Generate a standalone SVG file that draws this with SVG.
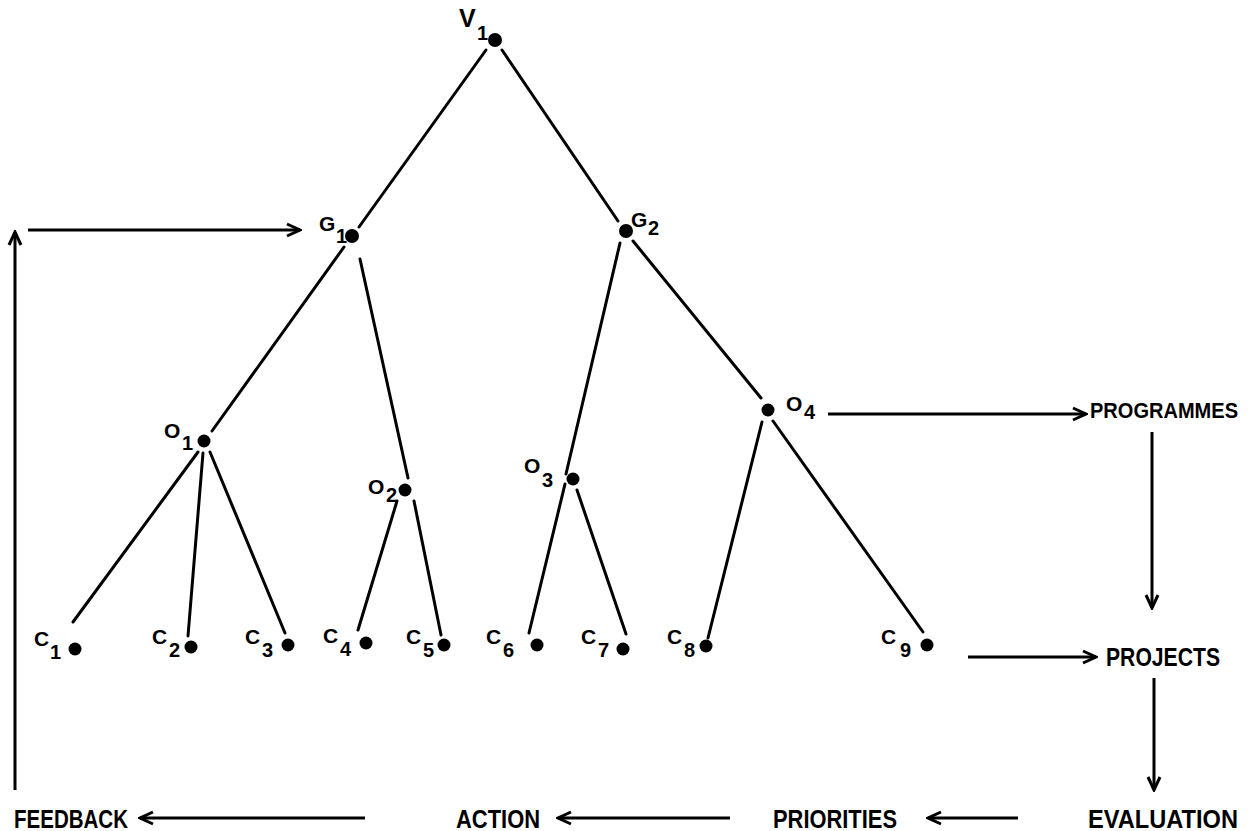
<svg xmlns="http://www.w3.org/2000/svg" width="1254" height="831" viewBox="0 0 1254 831">
<style>
.e{stroke:#000;stroke-width:3;fill:none;stroke-linecap:round}
.a{stroke:#000;stroke-width:3;fill:none;marker-end:url(#ah)}
.d{fill:#000}
.l{font-family:"Liberation Sans",Arial,sans-serif;font-weight:bold;font-size:21px;fill:#000}
.s{font-family:"Liberation Sans",Arial,sans-serif;font-weight:bold;font-size:20px;fill:#000}
.t{font-family:"Liberation Sans",Arial,sans-serif;font-weight:bold;font-size:25px;fill:#000}
</style>
<defs>
<marker id="ah" viewBox="0 0 16 16" refX="14" refY="8" markerWidth="16" markerHeight="16" markerUnits="userSpaceOnUse" orient="auto">
<path d="M1,2 L14,8 L1,14" fill="none" stroke="#000" stroke-width="3"/>
</marker>
</defs>
<rect width="1254" height="831" fill="#fff"/>
<g id="connectors">
<line class="e" x1="486" y1="50" x2="359" y2="227"/>
<line class="e" x1="502" y1="50" x2="618" y2="221"/>
<line class="e" x1="344" y1="247" x2="212" y2="431"/>
<line class="e" x1="360" y1="259" x2="408" y2="478"/>
<line class="e" x1="620" y1="243" x2="566" y2="474"/>
<line class="e" x1="565" y1="484" x2="529" y2="633"/>
<line class="e" x1="633" y1="241" x2="761" y2="398"/>
<line class="e" x1="198" y1="452" x2="73" y2="622"/>
<line class="e" x1="203" y1="453" x2="188" y2="636"/>
<line class="e" x1="210" y1="452" x2="285" y2="633"/>
<line class="e" x1="397" y1="501" x2="358" y2="630"/>
<line class="e" x1="414" y1="501" x2="441" y2="635"/>
<line class="e" x1="577" y1="490" x2="626" y2="634"/>
<line class="e" x1="762" y1="422" x2="708" y2="638"/>
<line class="e" x1="773" y1="421" x2="923" y2="632"/>
<line class="a" x1="15" y1="790" x2="15" y2="232"/>
<line class="a" x1="28" y1="230" x2="300" y2="230"/>
<line class="a" x1="828" y1="414" x2="1086" y2="414"/>
<line class="a" x1="1152" y1="432" x2="1152" y2="608"/>
<line class="a" x1="968" y1="657" x2="1096" y2="657"/>
<line class="a" x1="1154" y1="678" x2="1154" y2="790"/>
<line class="a" x1="1018" y1="818" x2="928" y2="818"/>
<line class="a" x1="730" y1="818" x2="558" y2="818"/>
<line class="a" x1="365" y1="818" x2="140" y2="818"/>
</g>
<g id="V1"><circle class="d" cx="495" cy="40" r="7"/><text class="l" x="459" y="27" style="font-size:25px">V</text><text class="s" x="477" y="40">1</text></g>
<g id="G1"><circle class="d" cx="352" cy="236" r="7"/><text class="l" x="319" y="231">G</text><text class="s" x="336" y="243">1</text></g>
<g id="G2"><circle class="d" cx="626" cy="231" r="7"/><text class="l" x="631" y="227">G</text><text class="s" x="648" y="235">2</text></g>
<g id="O1"><circle class="d" cx="204" cy="441" r="6.5"/><text class="l" x="164" y="438">O</text><text class="s" x="182" y="450">1</text></g>
<g id="O2"><circle class="d" cx="405" cy="490" r="6.5"/><text class="l" x="368" y="494">O</text><text class="s" x="386" y="502">2</text></g>
<g id="O3"><circle class="d" cx="573" cy="479" r="6.5"/><text class="l" x="524" y="473">O</text><text class="s" x="542" y="487">3</text></g>
<g id="O4"><circle class="d" cx="768" cy="410" r="6.5"/><text class="l" x="786" y="411">O</text><text class="s" x="804" y="419">4</text></g>
<g id="C1"><circle class="d" cx="75" cy="649" r="6.5"/><text class="l" x="34" y="646">C</text><text class="s" x="50" y="659">1</text></g>
<g id="C2"><circle class="d" cx="191" cy="647" r="6.5"/><text class="l" x="152" y="644">C</text><text class="s" x="169" y="657">2</text></g>
<g id="C3"><circle class="d" cx="288" cy="645" r="6.5"/><text class="l" x="245" y="644">C</text><text class="s" x="262" y="657">3</text></g>
<g id="C4"><circle class="d" cx="366" cy="643" r="6.5"/><text class="l" x="323" y="643">C</text><text class="s" x="340" y="656">4</text></g>
<g id="C5"><circle class="d" cx="444" cy="645" r="6.5"/><text class="l" x="406" y="644">C</text><text class="s" x="423" y="657">5</text></g>
<g id="C6"><circle class="d" cx="537" cy="645" r="6.5"/><text class="l" x="486" y="644">C</text><text class="s" x="503" y="657">6</text></g>
<g id="C7"><circle class="d" cx="623" cy="649" r="6.5"/><text class="l" x="581" y="644">C</text><text class="s" x="598" y="657">7</text></g>
<g id="C8"><circle class="d" cx="706" cy="646" r="6.5"/><text class="l" x="667" y="644">C</text><text class="s" x="684" y="657">8</text></g>
<g id="C9"><circle class="d" cx="927" cy="645" r="6.5"/><text class="l" x="881" y="644">C</text><text class="s" x="900" y="657">9</text></g>
<g id="PROGRAMMES"><text class="t" x="1090" y="418" style="font-size:22px" textLength="148" lengthAdjust="spacingAndGlyphs">PROGRAMMES</text></g>
<g id="PROJECTS"><text class="t" x="1106" y="666" textLength="114" lengthAdjust="spacingAndGlyphs">PROJECTS</text></g>
<g id="EVALUATION"><text class="t" x="1088" y="828" textLength="150" lengthAdjust="spacingAndGlyphs">EVALUATION</text></g>
<g id="PRIORITIES"><text class="t" x="773" y="828" textLength="124" lengthAdjust="spacingAndGlyphs">PRIORITIES</text></g>
<g id="ACTION"><text class="t" x="456" y="828" textLength="84" lengthAdjust="spacingAndGlyphs">ACTION</text></g>
<g id="FEEDBACK"><text class="t" x="14" y="828" textLength="114" lengthAdjust="spacingAndGlyphs">FEEDBACK</text></g>
</svg>
